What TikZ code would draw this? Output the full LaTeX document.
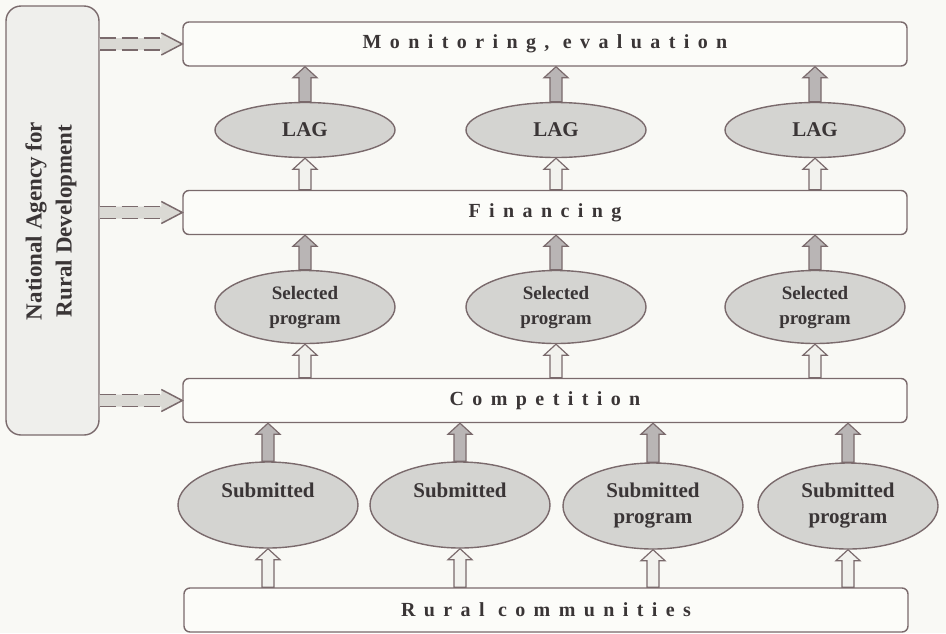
\documentclass[tikz,border=0pt]{standalone}
\usepackage{fontspec}
\setmainfont{Liberation Serif}
\newfontfamily\trackfont[LetterSpace=42]{Liberation Serif}
\usetikzlibrary{shapes.geometric,calc}

\definecolor{bgcol}{HTML}{F9F9F5}
\definecolor{edgecol}{HTML}{7A6A6C}
\definecolor{boxfill}{HTML}{FCFCF9}
\definecolor{agencyfill}{HTML}{EFEFEC}
\definecolor{ovalfill}{HTML}{D4D4D1}
\definecolor{darkarrow}{HTML}{B9B5B5}
\definecolor{lightarrow}{HTML}{F2F2EE}
\definecolor{dasharrow}{HTML}{DAD9D4}
\definecolor{txtcol}{HTML}{3A3536}

\tikzset{
  stagebox/.style={draw=edgecol, line width=1.4pt, fill=boxfill, rounded corners=6pt,
    minimum width=724pt, minimum height=44pt, inner sep=0pt, text=txtcol,
    font=\trackfont\bfseries\fontsize{20}{22}\selectfont},
  oval/.style={ellipse, draw=edgecol, line width=1.4pt, fill=ovalfill, minimum width=180pt,
    inner sep=0pt, text=txtcol, align=center,
    font=\bfseries\fontsize{21}{26}\selectfont},
  agencybox/.style={draw=edgecol, line width=1.4pt, fill=agencyfill, rounded corners=15pt,
    minimum width=93pt, minimum height=429pt, inner sep=0pt},
  blockedge/.style={draw=edgecol, line width=1.2pt, line join=miter},
}

% upward block arrow from #1 (bottom) to #2 (top), filled with #3
\newcommand\blockup[3]{%
  \path[blockedge, fill=#3] let \p1=(#1), \p2=(#2) in
    ({\x1-6pt},{\y1}) -- ({\x1-6pt},{\y2-11pt}) -- ({\x1-12pt},{\y2-11pt}) --
    ({\x1},{\y2}) -- ({\x1+12pt},{\y2-11pt}) -- ({\x1+6pt},{\y2-11pt}) --
    ({\x1+6pt},{\y1}) -- cycle;}

% dashed hollow arrow from #1 (left) to #2 (right)
\newcommand\dashright[2]{%
  \fill[dasharrow] let \p1=(#1), \p2=(#2) in
    ({\x1},{\y1+6pt}) -- ({\x2-21pt},{\y1+6pt}) -- ({\x2-21pt},{\y1+11pt}) --
    ({\x2},{\y1}) -- ({\x2-21pt},{\y1-11pt}) -- ({\x2-21pt},{\y1-6pt}) --
    ({\x1},{\y1-6pt}) -- cycle;
  \draw[edgecol, line width=1.5pt, dash pattern=on 16pt off 6pt] let \p1=(#1), \p2=(#2) in
    ({\x1},{\y1+6pt}) -- ({\x2-19pt},{\y1+6pt})
    ({\x1},{\y1-6pt}) -- ({\x2-19pt},{\y1-6pt});
  \draw[edgecol, line width=1.5pt, line join=miter] let \p1=(#1), \p2=(#2) in
    ({\x2-21pt},{\y1+11pt}) -- ({\x2},{\y1}) -- ({\x2-21pt},{\y1-11pt});}

\begin{document}
\begin{tikzpicture}[x=1pt, y=-1pt]
  \fill[bgcol] (0,0) rectangle (946,633);
  \useasboundingbox (0,0) rectangle (946,633);

  % agency
  \node[agencybox] (nard) at (52.5,220.5) {};
  \node[rotate=90, align=center, text=txtcol, font=\bfseries\fontsize{23}{30}\selectfont]
    (nardlabel) at (51,221) {National Agency for\\Rural Development};

  % stages
  \node[stagebox] (mon) at (545,44) {Monitoring, evaluation};
  \node[stagebox] (fin) at (545,212.5) {Financing};
  \node[stagebox] (comp) at (545,400.5) {Competition};
  \node[stagebox] (rural) at (546,610) {Rural communities};

  % local action groups
  \foreach \i/\x in {1/305,2/556,3/815}{
    \node[oval, minimum height=55pt] (lag\i) at (\x,130) {LAG};
    \node[oval, minimum height=73pt, font=\bfseries\fontsize{19}{25}\selectfont]
      (sel\i) at (\x,307) {Selected\\program};
  }

  % submitted programmes
  \node[oval, minimum height=86pt] (sub1) at (268,505) {Submitted\\\phantom{p}};
  \node[oval, minimum height=86pt] (sub2) at (460,505) {Submitted\\\phantom{p}};
  \node[oval, minimum height=86pt] (sub3) at (653,506) {Submitted\\program};
  \node[oval, minimum height=86pt] (sub4) at (848,506) {Submitted\\program};

  % upward flows
  \foreach \i in {1,2,3}{
    \blockup{lag\i.north}{lag\i.north |- mon.south}{darkarrow}
    \blockup{lag\i.south |- fin.north}{lag\i.south}{lightarrow}
    \blockup{sel\i.north}{sel\i.north |- fin.south}{darkarrow}
    \blockup{sel\i.south |- comp.north}{sel\i.south}{lightarrow}
  }
  \foreach \i in {1,2,3,4}{
    \blockup{sub\i.north}{sub\i.north |- comp.south}{darkarrow}
    \blockup{sub\i.south |- rural.north}{sub\i.south}{lightarrow}
  }

  % agency links
  \dashright{nard.east |- mon.west}{mon.west}
  \dashright{nard.east |- fin.west}{fin.west}
  \dashright{nard.east |- comp.west}{comp.west}
\end{tikzpicture}
\end{document}
